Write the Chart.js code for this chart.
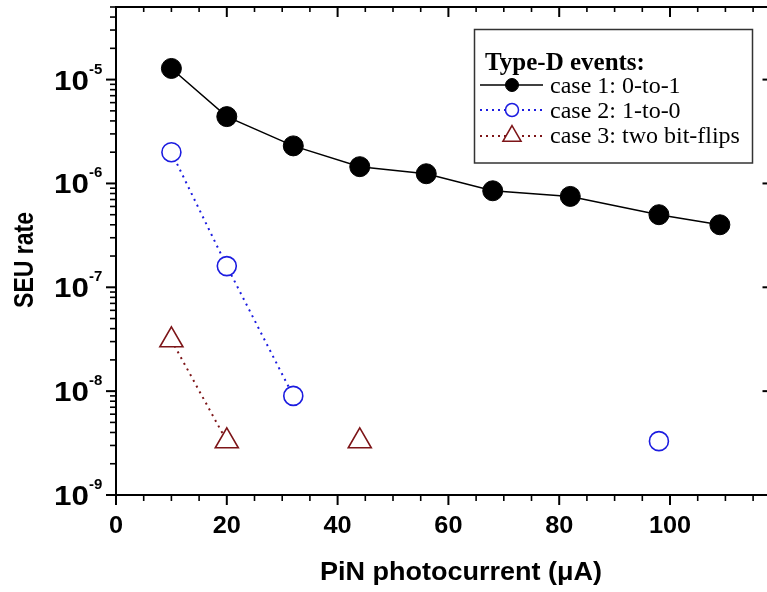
<!DOCTYPE html>
<html>
<head>
<meta charset="utf-8">
<script src="https://cdn.jsdelivr.net/npm/chart.js@4.4.1/dist/chart.umd.min.js"></script>
<style>
  html, body { margin: 0; padding: 0; background: #fff; overflow: hidden; width: 767px; height: 592px; }
  #wrap { position: relative; width: 780px; height: 592px; }
</style>
</head>
<body>
<div id="wrap"><canvas id="c" width="780" height="592"></canvas></div>
<script>
// ---------- data ----------
const case1X = [10, 20, 32, 44, 56, 68, 82, 98, 109];
const case1Y = [1.28e-5, 4.4e-6, 2.3e-6, 1.45e-6, 1.24e-6, 8.5e-7, 7.5e-7, 5.0e-7, 4.0e-7];
const case2X = [10, 20, 32, 98];
const case2Y = [2.0e-6, 1.6e-7, 9.0e-9, 3.3e-9];
const case2Breaks = [3];           // no line drawn into this point index
const case3X = [10, 20, 44];
const case3Y = [3.1e-8, 3.3e-9, 3.3e-9];
const case3Breaks = [2];

const seriesLabels = ['case 1: 0-to-1', 'case 2: 1-to-0', 'case 3: two bit-flips'];
const legendTitle = 'Type-D events:';
const xTickValues = [0, 20, 40, 60, 80, 100];
const xTickLabels = ['0', '20', '40', '60', '80', '100'];
const yTickExponents = [-9, -8, -7, -6, -5];
const xTitle = 'PiN photocurrent (\u03BCA)';
const yTitle = 'SEU rate';
const xMin = 0, xMax = 118.5, xMinorStep = 5;
const yMin = 1e-9, yMax = 5e-5;

const BLUE = '#1c1ce0';
const DRED = '#7d1518';

function pts(xs, ys) { return xs.map((x, i) => ({ x: x, y: ys[i] })); }

function breakSeg(breaks, color) {
  return { borderColor: ctx => breaks.includes(ctx.p1DataIndex) ? 'rgba(0,0,0,0)' : color };
}

const SANS = '"Liberation Sans", Arial, sans-serif';
const SERIF = '"Liberation Serif", "Times New Roman", serif';

function txt(ctx, s, x, y, font, align, baseline, sx) {
  ctx.save();
  ctx.translate(x, y);
  ctx.scale(sx || 1, 1);
  ctx.font = font;
  ctx.textAlign = align;
  ctx.textBaseline = baseline;
  ctx.fillStyle = '#000';
  ctx.fillText(s, 0, 0);
  ctx.restore();
}

function line(ctx, x1, y1, x2, y2) {
  ctx.beginPath(); ctx.moveTo(x1, y1); ctx.lineTo(x2, y2); ctx.stroke();
}

function marker(ctx, style, x, y, r, fill, stroke, lw) {
  ctx.save();
  ctx.beginPath();
  if (style === 'circle') {
    ctx.arc(x, y, r, 0, Math.PI * 2);
  } else {
    ctx.moveTo(x, y - r);
    ctx.lineTo(x + r * Math.sin(Math.PI * 2 / 3), y + r / 2);
    ctx.lineTo(x - r * Math.sin(Math.PI * 2 / 3), y + r / 2);
    ctx.closePath();
  }
  ctx.fillStyle = fill; ctx.fill();
  ctx.lineWidth = lw; ctx.strokeStyle = stroke; ctx.stroke();
  ctx.restore();
}

const framePlugin = {
  id: 'frame',
  afterDraw(chart) {
    const ctx = chart.ctx;
    const xs = chart.scales.x, ys = chart.scales.y;
    const a = chart.chartArea;
    ctx.save();
    ctx.strokeStyle = '#000';
    ctx.lineCap = 'butt';
    // axis lines
    ctx.lineWidth = 2;
    ctx.strokeRect(a.left, a.top, a.right - a.left, a.bottom - a.top);

    // x ticks (bottom outward, top inward)
    for (let v = xMin; v <= xMax; v += xMinorStep) {
      const px = xs.getPixelForValue(v);
      const major = xTickValues.includes(v) || (v % 20 === 0);
      ctx.lineWidth = major ? 2 : 1.6;
      line(ctx, px, a.bottom, px, a.bottom + (major ? 10 : 6));
      line(ctx, px, a.top, px, a.top + (major ? 10 : 5));
    }
    // y ticks (left outward, right inward)
    for (let e = yTickExponents[0]; e <= yTickExponents[yTickExponents.length - 1]; e++) {
      for (let m = 1; m <= 9; m++) {
        const v = m * Math.pow(10, e);
        if (v > yMax * 1.0001) break;
        const py = ys.getPixelForValue(v);
        const major = m === 1;
        ctx.lineWidth = major ? 2 : 1.6;
        line(ctx, a.left - (major ? 10 : 6), py, a.left, py);
        line(ctx, a.right - (major ? 10 : 5), py, a.right, py);
      }
    }

    // x tick labels
    xTickValues.forEach((v, i) => {
      txt(ctx, xTickLabels[i], xs.getPixelForValue(v), a.bottom + 38, 'bold 23px ' + SANS, 'center', 'alphabetic', 1.1);
    });
    // y tick labels: 10^e
    yTickExponents.forEach(e => {
      const py = ys.getPixelForValue(Math.pow(10, e));
      txt(ctx, '10', 89, py + 10, 'bold 28px ' + SANS, 'right', 'alphabetic', 1.12);
      txt(ctx, '-' + Math.abs(e), 89, py - 6, 'bold 15px ' + SANS, 'left', 'alphabetic', 1.0);
    });

    // axis titles
    txt(ctx, xTitle, 461, 580, 'bold 25px ' + SANS, 'center', 'alphabetic', 1.08);
    ctx.save();
    ctx.translate(33, 260);
    ctx.scale(1.2, 1);
    ctx.rotate(-Math.PI / 2);
    ctx.font = 'bold 23px ' + SANS;
    ctx.textAlign = 'center';
    ctx.textBaseline = 'alphabetic';
    ctx.fillStyle = '#000';
    ctx.fillText(yTitle, 0, 0);
    ctx.restore();

    // legend
    const L = 474.5, T = 29.5, W = 278, H = 133.5;
    ctx.fillStyle = '#fff';
    ctx.fillRect(L, T, W, H);
    ctx.lineWidth = 1.5; ctx.strokeStyle = '#333';
    ctx.strokeRect(L, T, W, H);
    txt(ctx, legendTitle, 485, 70, 'bold 25px ' + SERIF, 'left', 'alphabetic', 1);
    const rows = [
      { dash: [], color: '#000', style: 'circle', r: 6.5, fill: '#000', lw: 1 },
      { dash: [2, 4], color: BLUE, style: 'circle', r: 6.5, fill: '#fff', lw: 1.5 },
      { dash: [2, 4], color: DRED, style: 'triangle', r: 10.5, fill: '#fff', lw: 1.5 }
    ];
    rows.forEach((row, i) => {
      const cy = 85 + i * 25 + (row.style === 'triangle' ? 1 : 0);
      ctx.save();
      ctx.strokeStyle = row.color;
      ctx.lineWidth = row.dash.length ? 2 : 1.5;
      ctx.setLineDash(row.dash);
      line(ctx, 480, cy, 543, cy);
      ctx.restore();
      marker(ctx, row.style, 512, cy, row.r, row.fill, row.color, row.lw);
      txt(ctx, seriesLabels[i], 550, 93 + i * 25, '24px ' + SERIF, 'left', 'alphabetic', 1);
    });
    ctx.restore();
  }
};

new Chart(document.getElementById('c'), {
  type: 'scatter',
  data: {
    datasets: [
      {
        label: seriesLabels[0], data: pts(case1X, case1Y), showLine: true,
        borderColor: '#000', borderWidth: 1.5,
        pointStyle: 'circle', pointRadius: 10, pointHoverRadius: 10,
        pointBackgroundColor: '#000', pointBorderColor: '#000', pointBorderWidth: 1
      },
      {
        label: seriesLabels[1], data: pts(case2X, case2Y), showLine: true,
        borderColor: BLUE, borderWidth: 2, borderDash: [2, 4.5],
        segment: breakSeg(case2Breaks, BLUE),
        pointStyle: 'circle', pointRadius: 9.5, pointHoverRadius: 9.5,
        pointBackgroundColor: '#fff', pointBorderColor: BLUE, pointBorderWidth: 1.6
      },
      {
        label: seriesLabels[2], data: pts(case3X, case3Y), showLine: true,
        borderColor: DRED, borderWidth: 2, borderDash: [2, 4.5],
        segment: breakSeg(case3Breaks, DRED),
        pointStyle: 'triangle', pointRadius: 13.3, pointHoverRadius: 13.3,
        pointBackgroundColor: '#fff', pointBorderColor: DRED, pointBorderWidth: 1.6
      }
    ]
  },
  options: {
    responsive: false,
    animation: false,
    devicePixelRatio: 1,
    layout: { autoPadding: false, padding: { left: 116, right: 7.5, top: 7, bottom: 97 } },
    plugins: { legend: { display: false }, tooltip: { enabled: false } },
    scales: {
      x: { type: 'linear', min: xMin, max: xMax, display: false },
      y: { type: 'logarithmic', min: yMin, max: yMax, display: false }
    }
  },
  plugins: [framePlugin]
});
</script>
</body>
</html>
